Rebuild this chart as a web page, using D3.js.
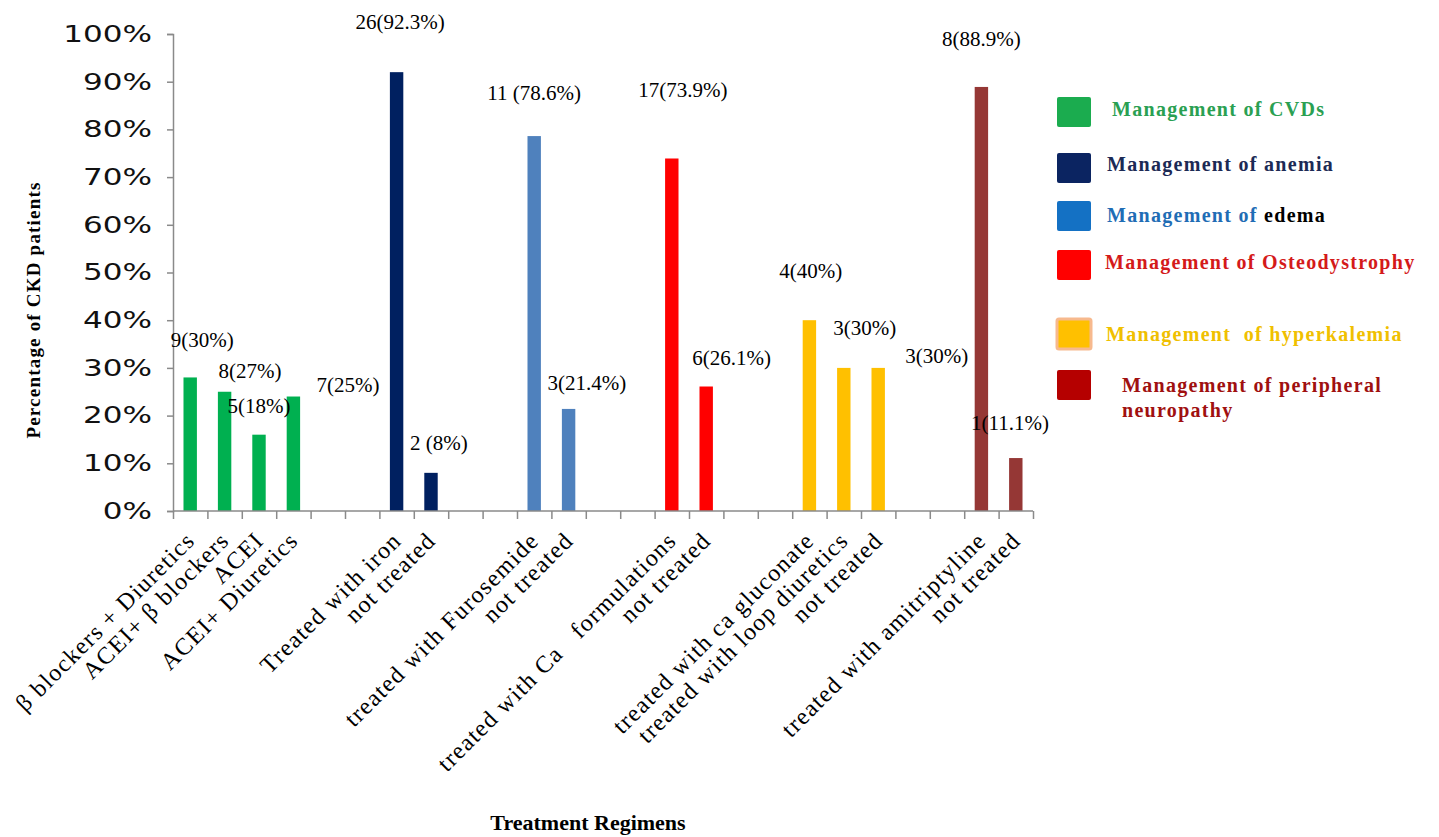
<!DOCTYPE html>
<html>
<head>
<meta charset="utf-8">
<script src="https://cdn.jsdelivr.net/npm/d3@7"></script>
<style>
  body { margin: 0; background: #fff; }
  text { white-space: pre; }
</style>
</head>
<body>
<div id="chart"></div>
<script>

// one slot per x position, blanks are the gaps between the groups
var categories = ["β blockers + Diuretics", "ACEI+ β blockers", "ACEI", "ACEI+ Diuretics", "", "",
  "Treated with iron", "not treated", "", "",
  "treated with Furosemide", "not treated", "", "",
  "treated with Ca   formulations", "not treated", "", "",
  "treated with ca gluconate", "treated with loop diuretics", "not treated", "", "",
  "treated with amitriptyline", "not treated"];

var values = [28, 25, 16, 24, null, null,
  92, 8, null, null,
  78.6, 21.4, null, null,
  73.9, 26.1, null, null,
  40, 30, 30, null, null,
  88.9, 11.1];

var groupOf = [0, 0, 0, 0, -1, -1, 1, 1, -1, -1, 2, 2, -1, -1, 3, 3, -1, -1, 4, 4, 4, -1, -1, 5, 5];

var groupNames = ["Management of CVDs", "Management of anemia", "Management of edema",
  "Management of Osteodystrophy", "Management  of hyperkalemia", "Management of peripheral neuropathy"];

var barColors = ["#00b050", "#002060", "#4f81bd", "#ff0000", "#ffc000", "#953735"];

// annotation texts, the slot they belong to, a sideways nudge (in slots) and the height they sit at (in %)
var barLabels = ["9(30%)", "8(27%)", "5(18%)", "7(25%)", "26(92.3%)", "2 (8%)", "11 (78.6%)", "3(21.4%)",
  "17(73.9%)", "6(26.1%)", "4(40%)", "3(30%)", "3(30%)", "8(88.9%)", "1(11.1%)"];
var labelSlot = [0, 1, 2, 3, 6, 7, 10, 11, 14, 15, 18, 19, 20, 23, 24];
var labelShift = [0.35, 0.74, 0, 1.59, 0.1, 0.23, 0, 0.53, 0.32, 0.74, 0.04, 0.61, 1.7, 0, -0.17];
var labelLevel = [34.4, 27.9, 20.5, 24.9, 101, 12.8, 86.2, 25.4, 86.8, 30.6, 48.8, 36.9, 31.0, 97.5, 17.0];

var yTicks = [0, 10, 20, 30, 40, 50, 60, 70, 80, 90, 100];


var W = 1439, H = 837;
var plot = { left: 173, right: 1033, top: 34, bottom: 511 };

var svg = d3.select("#chart").append("svg")
  .attr("width", W)
  .attr("height", H)
  .style("background", "#fff");

var idx = d3.range(categories.length);

var x = d3.scaleBand().domain(idx).range([plot.left, plot.right]).padding(0);
var xEdge = d3.scaleLinear().domain([0, categories.length]).range([plot.left, plot.right]);
var y = d3.scaleLinear().domain([0, 100]).range([plot.bottom, plot.top]);

var barW = x.bandwidth() * 0.39;

// bars
svg.append("g").selectAll("rect")
  .data(idx.filter(function (i) { return values[i] != null; }))
  .enter().append("rect")
  .attr("x", function (i) { return x(i) + x.bandwidth() / 2 - barW / 2; })
  .attr("y", function (i) { return y(values[i]); })
  .attr("width", barW)
  .attr("height", function (i) { return y(0) - y(values[i]); })
  .attr("fill", function (i) { return barColors[groupOf[i]]; });

// y axis
var yAxis = d3.axisLeft(y).tickValues(yTicks).tickSize(6).tickFormat(function (d) { return d + "%"; });
var gy = svg.append("g").attr("transform", "translate(" + plot.left + ",0)").call(yAxis);
gy.select(".domain").attr("stroke", "#8a8a8a").attr("stroke-width", 1.5);
gy.selectAll(".tick line").attr("stroke", "#8a8a8a").attr("stroke-width", 1.5);
gy.selectAll(".tick text")
  .attr("x", -15.5)
  .attr("transform", "scale(1.35,1)")
  .attr("fill", "#111")
  .style("font-family", "'DejaVu Sans', sans-serif")
  .style("font-size", "23px");

// x axis: ticks sit on the slot edges
var xAxis = d3.axisBottom(xEdge).tickValues(d3.range(categories.length + 1)).tickSize(8).tickFormat("");
var gx = svg.append("g").attr("transform", "translate(0," + plot.bottom + ")").call(xAxis);
gx.select(".domain").attr("stroke", "#8a8a8a").attr("stroke-width", 1.5).attr("d", "M" + plot.left + ",0H" + plot.right);
gx.selectAll(".tick line").attr("stroke", "#8a8a8a").attr("stroke-width", 1.5);

// slanted category names
svg.append("g").selectAll("text")
  .data(idx.filter(function (i) { return categories[i] != ""; }))
  .enter().append("text")
  .attr("transform", function (i) {
    return "translate(" + (x(i) + x.bandwidth() / 2 + 6) + "," + (plot.bottom + 31) + ") rotate(-45)";
  })
  .attr("text-anchor", "end")
  .style("font-family", "'Liberation Serif', 'Times New Roman', serif")
  .style("font-size", "24px")
  .style("letter-spacing", "1.3px")
  .attr("fill", "#000")
  .text(function (i) { return categories[i]; });

// value annotations
svg.append("g").selectAll("text")
  .data(barLabels)
  .enter().append("text")
  .attr("x", function (d, k) { return x(labelSlot[k]) + x.bandwidth() * (0.5 + labelShift[k]); })
  .attr("y", function (d, k) { return y(labelLevel[k]); })
  .attr("text-anchor", "middle")
  .style("font-family", "'Liberation Serif', 'Times New Roman', serif")
  .style("font-size", "21px")
  .attr("fill", "#000")
  .text(function (d) { return d; });

// axis titles
svg.append("text")
  .attr("transform", "translate(40,310) rotate(-90)")
  .attr("text-anchor", "middle")
  .style("font-family", "'Liberation Serif', 'Times New Roman', serif")
  .style("font-size", "19px")
  .style("font-weight", "bold")
  .style("letter-spacing", "1.2px")
  .text("Percentage of CKD patients");

svg.append("text")
  .attr("x", 588)
  .attr("y", 830)
  .attr("text-anchor", "middle")
  .style("font-family", "'Liberation Serif', 'Times New Roman', serif")
  .style("font-size", "22px")
  .style("font-weight", "bold")
  .text("Treatment Regimens");

// legend
var legendSwatch = ["#1bac4f", "#0b2461", "#1471c4", "#ff0000", "#ffc000", "#b50000"];
var legendText = ["#2aa052", "#1c2a55", "#1f6db5", "#d41a1a", "#f0c000", "#a01010"];
var legendTop = [97, 153, 201, 250, 319, 370];
var legendTextX = [1112, 1107, 1107, 1105, 1106, 1122];
var legendBase = [116, 171, 222, 269, 341, 392];

var leg = svg.append("g");
leg.selectAll("rect")
  .data(groupNames)
  .enter().append("rect")
  .attr("x", 1057)
  .attr("y", function (d, i) { return legendTop[i]; })
  .attr("width", 34)
  .attr("height", 30)
  .attr("rx", 2)
  .attr("fill", function (d, i) { return legendSwatch[i]; })
  .attr("stroke", function (d, i) { return i == 4 ? "#f7b98e" : "none"; })
  .attr("stroke-width", 3);

var lt = leg.selectAll("text")
  .data(groupNames)
  .enter().append("text")
  .attr("x", function (d, i) { return legendTextX[i]; })
  .attr("y", function (d, i) { return legendBase[i]; })
  .style("font-family", "'Liberation Serif', 'Times New Roman', serif")
  .style("font-size", "20px")
  .style("font-weight", "bold")
  .style("letter-spacing", "1.3px")
  .attr("fill", function (d, i) { return legendText[i]; });

lt.each(function (d, i) {
  var t = d3.select(this);
  if (i == 2) {
    t.append("tspan").text("Management of ");
    t.append("tspan").attr("fill", "#000").text("edema");
  } else if (i == 5) {
    t.append("tspan").text("Management of peripheral");
    t.append("tspan").attr("x", legendTextX[i]).attr("dy", 25).text("neuropathy");
  } else {
    t.text(d);
  }
});

</script>
</body>
</html>
